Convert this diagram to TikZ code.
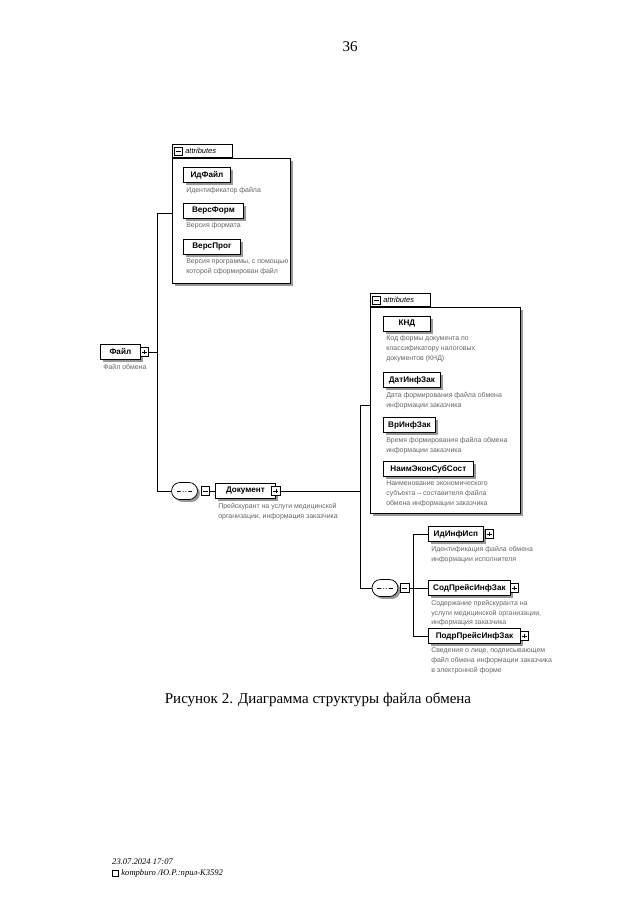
\documentclass[tikz,border=0pt]{standalone}
\usepackage{fontspec}
\setmainfont{Liberation Serif}
\newfontfamily\diagfont{Liberation Sans}
\usetikzlibrary{positioning, shapes.misc, shadows, calc}
\definecolor{desccol}{HTML}{666666}
\definecolor{shadecol}{HTML}{989898}
\newcommand{\namefont}{\diagfont\fontsize{7.6}{9}\selectfont\bfseries}
\newcommand{\descfont}{\diagfont\fontsize{6.5}{9.3}\selectfont}
\tikzset{
  % grey offset under boxes
  greyshadow/.style={drop shadow={shadow xshift=0.08cm, shadow yshift=-0.08cm,
                     fill=shadecol, opacity=1}},
  % element box of the schema
  namebox/.style={draw, fill=white, line width=0.75pt, font=\namefont,
                  minimum width=#1, minimum height=0.48cm, inner sep=0pt,
                  anchor=west, greyshadow},
  % grey annotation under an element
  desc/.style={font=\descfont, text=desccol, align=left, inner sep=0pt,
               below right=0.13cm and 0.1cm of #1.south west},
  % expand / collapse squares
  togglebox/.style={draw, fill=white, line width=0.5pt,
                    minimum size=0.28cm, inner sep=0pt},
  plusbox/.style={togglebox, anchor=west, path picture={
      \draw[line width=0.5pt]
        ([xshift=-0.08cm]path picture bounding box.center) --
        ([xshift=0.08cm]path picture bounding box.center);
      \draw[line width=0.5pt]
        ([yshift=-0.08cm]path picture bounding box.center) --
        ([yshift=0.08cm]path picture bounding box.center);}},
  minusbox/.style={togglebox, path picture={
      \draw[line width=0.5pt]
        ([xshift=-0.08cm]path picture bounding box.center) --
        ([xshift=0.08cm]path picture bounding box.center);}},
  % sequence compositor
  seqbox/.style={rounded rectangle, draw, fill=white, line width=0.7pt,
                 minimum width=0.85cm, minimum height=0.56cm, inner sep=0pt,
                 greyshadow, path picture={
      \draw[line width=0.6pt]
        ([xshift=-0.26cm]path picture bounding box.center) --
        ([xshift=0.26cm]path picture bounding box.center);
      \foreach \d in {-0.09,0,0.09}
        \fill ([xshift=\d cm]path picture bounding box.center) circle (0.045cm);}},
  % attribute group
  attrframe/.style={draw, fill=white, line width=0.6pt, inner sep=0pt,
                    anchor=north west, greyshadow},
  attrtab/.style={draw, fill=white, line width=0.6pt, inner sep=0pt,
                  anchor=south west, minimum width=1.97cm, minimum height=0.43cm},
  attrtext/.style={font=\diagfont\fontsize{7}{8}\selectfont\itshape, inner sep=0pt},
  conn/.style={line width=0.6pt},
}

\begin{document}
\begin{tikzpicture}[x=0.0328cm, y=-0.0328cm]
  \useasboundingbox (0,0) rectangle (640,901);
  \node[font=\fontsize{14}{16}\selectfont] (pagenum) at (350,47) {36};

  % attributes of the file
  \node[attrframe, minimum width=3.87cm, minimum height=4.1cm] (attrA) at (172,158) {};
  \node[attrtab] (tabA) at (attrA.north west) {};
  \node[minusbox, right=0.06cm of tabA.west] (tabAx) {};
  \node[attrtext, right=0.07cm of tabAx] (tabAtxt) {attributes};
  \node[namebox=1.54cm] (idfile) at (183,175) {ИдФайл};
  \node[desc=idfile] (idfiledesc) {Идентификатор файла};
  \node[namebox=1.97cm] (versform) at (183,211) {ВерсФорм};
  \node[desc=versform] (versformdesc) {Версия формата};
  \node[namebox=1.87cm] (versprog) at (183,247) {ВерсПрог};
  \node[desc=versprog] (versprogdesc) {Версия программы, с помощью\\которой сформирован файл};

  % root element
  \node[namebox=1.31cm] (file) at (100,352) {Файл};
  \node[plusbox] (filex) at ([xshift=-0.03cm]file.east) {};
  \node[desc=file] (filedesc) {Файл обмена};

  % sequence under the root
  \node[seqbox] (seqA) at (184.5,491) {};
  \node[minusbox, right=0.09cm of seqA] (seqAx) {};
  \node[namebox=1.97cm] (doc) at (215,491) {Документ};
  \node[plusbox] (docx) at ([xshift=-0.15cm]doc.east) {};
  \node[desc=doc] (docdesc) {Прейскурант на услуги медицинской\\организации, информация заказчика};

  \coordinate (fjoin) at (157,352);
  \coordinate (ftop) at (157,213);
  \coordinate (fbot) at (157,491);
  \draw[conn] (filex) -- (fjoin);
  \draw[conn] (attrA.west |- ftop) -- (ftop) -- (fbot) -- (seqA);
  \draw[conn] (seqAx) -- (doc);

  % attributes of the document
  \node[attrframe, minimum width=4.92cm, minimum height=6.76cm] (attrB) at (370,307) {};
  \node[attrtab] (tabB) at (attrB.north west) {};
  \node[minusbox, right=0.06cm of tabB.west] (tabBx) {};
  \node[attrtext, right=0.07cm of tabBx] (tabBtxt) {attributes};
  \node[namebox=1.54cm] (knd) at (383,324) {КНД};
  \node[desc=knd] (knddesc) {Код формы документа по\\классификатору налоговых\\документов (КНД)};
  \node[namebox=1.87cm] (datinf) at (383,380) {ДатИнфЗак};
  \node[desc=datinf] (datinfdesc) {Дата формирования файла обмена\\информации заказчика};
  \node[namebox=1.71cm] (vrinf) at (383,425) {ВрИнфЗак};
  \node[desc=vrinf] (vrinfdesc) {Время формирования файла обмена\\информации заказчика};
  \node[namebox=2.95cm] (naim) at (383,469) {НаимЭконСубСост};
  \node[desc=naim] (naimdesc) {Наименование экономического\\субъекта – составителя файла\\обмена информации заказчика};

  % sequence under the document
  \node[seqbox] (seqB) at (385,588) {};
  \node[minusbox, right=0.06cm of seqB] (seqBx) {};
  \node[namebox=1.8cm] (idinfisp) at (428,534) {ИдИнфИсп};
  \node[plusbox] (idinfispx) at ([xshift=0.03cm]idinfisp.east) {};
  \node[desc=idinfisp] (idinfispdesc) {Идентификация файла обмена\\информации исполнителя};
  \node[namebox=2.69cm] (sodpreis) at (428,588) {СодПрейсИнфЗак};
  \node[plusbox] (sodpreisx) at ([xshift=-0.03cm]sodpreis.east) {};
  \node[desc=sodpreis] (sodpreisdesc) {Содержание прейскуранта на\\услуги медицинской организации,\\информация заказчика};
  \node[namebox=3.02cm] (podr) at (428,636) {ПодрПрейсИнфЗак};
  \node[plusbox] (podrx) at ([xshift=-0.03cm]podr.east) {};
  \node[desc=podr] (podrdesc) {Сведения о лице, подписывающем\\файл обмена информации заказчика\\в электронной форме};

  \coordinate (djoin) at (360,491);
  \coordinate (rtop) at (360,405);
  \coordinate (rbot) at (360,588);
  \draw[conn] (docx) -- (djoin);
  \draw[conn] (attrB.west |- rtop) -- (rtop) -- (rbot) -- (seqB);
  \coordinate (stop) at (413,534);
  \coordinate (sbot) at (413,636);
  \draw[conn] (seqBx) -- (seqBx -| stop);
  \draw[conn] (idinfisp) -- (stop) -- (sbot) -- (podr);
  \draw[conn] (sodpreis) -- (sodpreis -| stop);

  % caption and stamp
  \node[font=\fontsize{14}{16}\selectfont] (caption) at (318,700)
    {Рисунок 2. Диаграмма структуры файла обмена};
  \node[font=\fontsize{8}{10}\selectfont\itshape, anchor=west, inner sep=0pt]
    (stamp) at (112,862) {23.07.2024 17:07};
  \node[draw, line width=0.4pt, minimum size=0.2cm, inner sep=0pt] (icon) at (115.5,873) {};
  \node[font=\fontsize{8}{10}\selectfont\itshape, anchor=west, inner sep=0pt,
        right=0.08cm of icon] (user) {kompburo /Ю.Р.:прил-К3592};
\end{tikzpicture}
\end{document}
